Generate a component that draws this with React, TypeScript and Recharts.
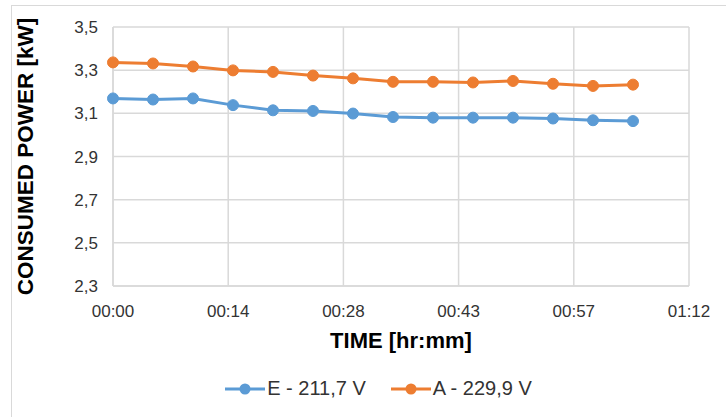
import { LineChart, Line, XAxis, YAxis, CartesianGrid, Legend } from 'recharts'

const minutes = [0, 5, 10, 15, 20, 25, 30, 35, 40, 45, 50, 55, 60, 65]
const seriesE = [3.169, 3.164, 3.169, 3.138, 3.114, 3.111, 3.099, 3.083, 3.08, 3.08, 3.08, 3.076, 3.068, 3.064]
const seriesA = [3.336, 3.331, 3.317, 3.299, 3.292, 3.275, 3.262, 3.246, 3.246, 3.243, 3.25, 3.237, 3.227, 3.233]
const xTicks = [0, 14.4, 28.8, 43.2, 57.6, 72]
const xTickLabels = ['00:00', '00:14', '00:28', '00:43', '00:57', '01:12']
const yTicks = [2.3, 2.5, 2.7, 2.9, 3.1, 3.3, 3.5]

const BLUE = '#5B9BD5'
const ORANGE = '#ED7D31'
const GRID = '#D9D9D9'
const FONT = '"Liberation Sans", Arial, sans-serif'

const data = minutes.map((t, i) => ({ t, e: seriesE[i], a: seriesA[i] }))

const legendItems = [
  { name: 'E - 211,7 V', color: BLUE },
  { name: 'A - 229,9 V', color: ORANGE },
]

// legend is centred on the whole Excel chart area, which runs past the right edge
function LegendContent() {
  return (
    <div style={{ display: 'flex', justifyContent: 'center', gap: 25, paddingTop: 8, paddingLeft: 68, fontFamily: FONT, fontSize: 20, color: '#333' }}>
      {legendItems.map((it) => (
        <div key={it.name} style={{ display: 'flex', alignItems: 'center' }}>
          <svg width={40} height={12} style={{ marginRight: 2 }}>
            <line x1={0} y1={6} x2={40} y2={6} stroke={it.color} strokeWidth={3} />
            <circle cx={20} cy={6} r={5.5} fill={it.color} />
          </svg>
          <span>{it.name}</span>
        </div>
      ))}
    </div>
  )
}

export default function App() {
  return (
    <div style={{ position: 'fixed', left: 0, top: 0, width: 726, height: 417, overflow: 'hidden', background: '#fff' }}>
      <div style={{ position: 'absolute', left: 11, top: 5, width: 800, height: 500, border: `1.5px solid ${GRID}` }} />
      <div style={{ position: 'absolute', left: 0, top: 0 }}>
        <LineChart width={726} height={417} data={data} margin={{ top: 27, right: 37, left: 0, bottom: 18 }}>
          <CartesianGrid stroke={GRID} strokeWidth={1.5} />
          <XAxis
            dataKey="t"
            type="number"
            domain={[0, 72]}
            ticks={xTicks}
            tickFormatter={(v: number) => xTickLabels[xTicks.indexOf(v)] ?? ''}
            axisLine={{ stroke: GRID, strokeWidth: 1.5 }}
            tickLine={false}
            tickMargin={13}
            height={83}
            tick={{ fontFamily: FONT, fontSize: 17, fill: '#333' }}
            label={{
              value: 'TIME [hr:mm]',
              position: 'insideBottom',
              offset: 21,
              style: { fontFamily: FONT, fontSize: 22, fontWeight: 'bold', fill: '#000' },
            }}
          />
          <YAxis
            type="number"
            domain={[2.3, 3.5]}
            ticks={yTicks}
            tickFormatter={(v: number) => v.toFixed(1).replace('.', ',')}
            axisLine={{ stroke: GRID, strokeWidth: 1.5 }}
            tickLine={false}
            tickMargin={9}
            width={113}
            tick={{ fontFamily: FONT, fontSize: 17, fill: '#333' }}
            label={{
              value: 'CONSUMED POWER [kW]',
              angle: -90,
              position: 'insideLeft',
              offset: 25,
              style: { fontFamily: FONT, fontSize: 22.5, fontWeight: 'bold', fill: '#000', textAnchor: 'middle' },
            }}
          />
          <Legend verticalAlign="bottom" height={30} content={<LegendContent />} />
          <Line
            dataKey="e"
            name="E - 211,7 V"
            stroke={BLUE}
            strokeWidth={3}
            dot={{ r: 5.5, fill: BLUE, stroke: BLUE, strokeWidth: 1 }}
            isAnimationActive={false}
          />
          <Line
            dataKey="a"
            name="A - 229,9 V"
            stroke={ORANGE}
            strokeWidth={3}
            dot={{ r: 5.5, fill: ORANGE, stroke: ORANGE, strokeWidth: 1 }}
            isAnimationActive={false}
          />
        </LineChart>
      </div>
    </div>
  )
}
